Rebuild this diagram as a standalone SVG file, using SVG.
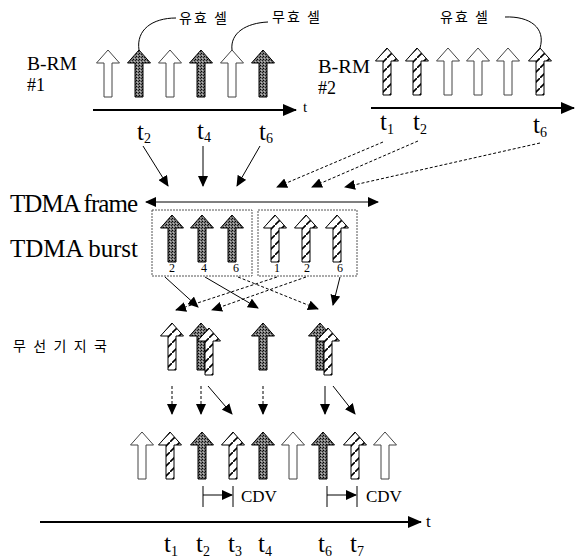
<svg xmlns="http://www.w3.org/2000/svg" width="584" height="559" viewBox="0 0 584 559">
<style>
.w{fill:#fff;stroke:#444;stroke-width:1}
.d{fill:url(#stip);stroke:#000;stroke-width:1}
.h{fill:url(#hatch);stroke:#000;stroke-width:1}
.lbl{font-family:"Liberation Serif",serif;fill:#000}
.ko{font-family:"Noto Sans CJK KR",sans-serif;fill:#000;font-size:14px}
.ln{stroke:#000;stroke-width:1;fill:none}
.dash{stroke-dasharray:3,2}
.ax{stroke:#000;stroke-width:2;fill:none}
.box{fill:none;stroke:#555;stroke-width:1;stroke-dasharray:2,1}
.sub{font-size:14px}
</style>
<defs>
<pattern id="stip" width="3" height="3" patternUnits="userSpaceOnUse">
<rect width="3" height="3" fill="#7a7a7a"/>
<rect x="0" y="0" width="1" height="1" fill="#000"/>
<rect x="2" y="1" width="1" height="1" fill="#222"/>
<rect x="1" y="2" width="1" height="1" fill="#bbb"/>
</pattern>
<pattern id="hatch" width="10" height="10" patternUnits="userSpaceOnUse">
<rect width="10" height="10" fill="#fff"/>
<path d="M-1,11 L11,-1" stroke="#000" stroke-width="1.6"/>
</pattern>
<path id="ar" d="M0,0 L11.5,13 L4,13 L4,47 L-4,47 L-4,13 L-11.5,13 Z"/>
<marker id="ah" markerWidth="11" markerHeight="10" refX="10" refY="5" orient="auto" markerUnits="userSpaceOnUse">
<path d="M0,0 L11,5 L0,10 Z" fill="#000"/>
</marker>
<marker id="ah2" markerWidth="11" markerHeight="10" refX="10" refY="5" orient="auto-start-reverse" markerUnits="userSpaceOnUse">
<path d="M0,0 L11,5 L0,10 Z" fill="#000"/>
</marker>
<marker id="big" markerWidth="14" markerHeight="12" refX="13" refY="6" orient="auto" markerUnits="userSpaceOnUse">
<path d="M0,0 L14,6 L0,12 Z" fill="#000"/>
</marker>
</defs>
<rect width="584" height="559" fill="#fff"/>

<g id="brm1">
<text class="lbl" x="27" y="70" font-size="18" textLength="50" lengthAdjust="spacingAndGlyphs">B-RM</text>
<text class="lbl" x="27" y="91" font-size="18">#1</text>
<use href="#ar" x="108" y="50" class="w"/>
<use href="#ar" x="139" y="50" class="d"/>
<use href="#ar" x="170" y="50" class="w"/>
<use href="#ar" x="201" y="50" class="d"/>
<use href="#ar" x="232" y="50" class="w"/>
<use href="#ar" x="263" y="50" class="d"/>
<line x1="93" y1="110" x2="296" y2="110" class="ax" marker-end="url(#big)"/>
<text class="lbl" x="303" y="112" font-size="15">t</text>
<text class="lbl" x="137" y="140" font-size="25">t<tspan class="sub" dy="3">2</tspan></text>
<text class="lbl" x="197" y="139" font-size="25">t<tspan class="sub" dy="3">4</tspan></text>
<text class="lbl" x="259" y="140" font-size="25">t<tspan class="sub" dy="3">6</tspan></text>
<text class="ko" x="179" y="23" font-size="15" letter-spacing="2">유효 셀</text>
<text class="ko" x="272" y="22" font-size="15" letter-spacing="2">무효 셀</text>
<path class="ln" stroke-width="2" d="M139,50 C136,30 152,18 176,18"/>
<path class="ln" stroke-width="2" d="M232,50 C230,33 246,23 268,22"/>
</g>

<g id="brm2">
<text class="lbl" x="318" y="73" font-size="18" textLength="52" lengthAdjust="spacingAndGlyphs">B-RM</text>
<text class="lbl" x="318" y="94" font-size="18">#2</text>
<use href="#ar" x="387" y="48" class="h"/>
<use href="#ar" x="417" y="48" class="h"/>
<use href="#ar" x="448" y="48" class="w"/>
<use href="#ar" x="478" y="48" class="w"/>
<use href="#ar" x="508" y="48" class="w"/>
<use href="#ar" x="540" y="48" class="h"/>
<line x1="371" y1="108" x2="574" y2="108" class="ax" marker-end="url(#big)"/>
<text class="lbl" x="380" y="130" font-size="25">t<tspan class="sub" dy="4">1</tspan></text>
<text class="lbl" x="413" y="130" font-size="25">t<tspan class="sub" dy="4">2</tspan></text>
<text class="lbl" x="533" y="133" font-size="25">t<tspan class="sub" dy="4">6</tspan></text>
<text class="ko" x="440" y="22" font-size="15" letter-spacing="2">유효 셀</text>
<path class="ln" stroke-width="2" d="M505,17 C530,16 546,28 540,48"/>
</g>

<g id="tdma-frame">
<text class="lbl" x="10" y="212" font-size="25" textLength="128" lengthAdjust="spacing">TDMA frame</text>
<line x1="146" y1="202" x2="378" y2="202" class="ln" stroke-width="1.5" marker-start="url(#ah2)" marker-end="url(#ah2)"/>
</g>

<g id="tdma-burst">
<text class="lbl" x="10" y="257" font-size="25" textLength="128" lengthAdjust="spacing">TDMA burst</text>
</g>

<g id="burst1">
<rect class="box" x="152" y="210" width="100" height="66"/>
<use href="#ar" x="172" y="215" class="d"/>
<use href="#ar" x="202" y="215" class="d"/>
<use href="#ar" x="232" y="215" class="d"/>
<text class="lbl" x="172" y="272" font-size="12" text-anchor="middle">2</text>
<text class="lbl" x="204" y="272" font-size="12" text-anchor="middle">4</text>
<text class="lbl" x="236" y="272" font-size="12" text-anchor="middle">6</text>
</g>

<g id="burst2">
<rect class="box" x="258" y="210" width="99" height="66"/>
<use href="#ar" x="275" y="215" class="h"/>
<use href="#ar" x="306" y="215" class="h"/>
<use href="#ar" x="337" y="215" class="h"/>
<text class="lbl" x="277" y="272" font-size="12" text-anchor="middle">1</text>
<text class="lbl" x="307" y="272" font-size="12" text-anchor="middle">2</text>
<text class="lbl" x="340" y="272" font-size="12" text-anchor="middle">6</text>
</g>

<g id="base-station">
<text class="ko" x="13" y="351" textLength="94" lengthAdjust="spacing">무선기지국</text>
<use href="#ar" x="172" y="323" class="h"/>
<use href="#ar" x="201" y="323" class="d"/>
<use href="#ar" x="209" y="328" class="h"/>
<use href="#ar" x="263" y="323" class="d"/>
<use href="#ar" x="320" y="323" class="d"/>
<use href="#ar" x="328" y="328" class="h"/>
</g>

<g id="output">
<use href="#ar" x="142" y="432" class="w"/>
<use href="#ar" x="170" y="432" class="h"/>
<use href="#ar" x="202" y="432" class="d"/>
<use href="#ar" x="233" y="432" class="h"/>
<use href="#ar" x="263" y="432" class="d"/>
<use href="#ar" x="293" y="432" class="w"/>
<use href="#ar" x="323" y="432" class="d"/>
<use href="#ar" x="355" y="432" class="h"/>
<use href="#ar" x="385" y="432" class="w"/>
<line class="ln" x1="203" y1="486" x2="203" y2="507"/>
<line class="ln" x1="233" y1="486" x2="233" y2="507"/>
<line class="ln" x1="203" y1="495" x2="232" y2="495" stroke-width="1.5" marker-end="url(#ah)"/>
<text class="lbl" x="241" y="502" font-size="17">CDV</text>
<line class="ln" x1="327" y1="486" x2="327" y2="507"/>
<line class="ln" x1="357" y1="486" x2="357" y2="507"/>
<line class="ln" x1="327" y1="495" x2="356" y2="495" stroke-width="1.5" marker-end="url(#ah)"/>
<text class="lbl" x="366" y="502" font-size="17">CDV</text>
<line x1="40" y1="522" x2="421" y2="522" class="ax" marker-end="url(#big)"/>
<text class="lbl" x="426" y="527" font-size="17">t</text>
<text class="lbl" x="164" y="552" font-size="25">t<tspan class="sub" dy="4">1</tspan></text>
<text class="lbl" x="196" y="552" font-size="25">t<tspan class="sub" dy="4">2</tspan></text>
<text class="lbl" x="228" y="552" font-size="25">t<tspan class="sub" dy="4">3</tspan></text>
<text class="lbl" x="258" y="552" font-size="25">t<tspan class="sub" dy="4">4</tspan></text>
<text class="lbl" x="318" y="552" font-size="25">t<tspan class="sub" dy="4">6</tspan></text>
<text class="lbl" x="350" y="552" font-size="25">t<tspan class="sub" dy="4">7</tspan></text>
</g>

<g id="connectors">
<line class="ln" x1="143" y1="146" x2="168" y2="186" marker-end="url(#ah)"/>
<line class="ln" x1="203" y1="146" x2="203" y2="186" marker-end="url(#ah)"/>
<line class="ln" x1="260" y1="146" x2="237" y2="186" marker-end="url(#ah)"/>
<line class="ln dash" x1="383" y1="142" x2="277" y2="187" marker-end="url(#ah)"/>
<line class="ln dash" x1="418" y1="141" x2="312" y2="187" marker-end="url(#ah)"/>
<line class="ln dash" x1="540" y1="143" x2="345" y2="187" marker-end="url(#ah)"/>
<line class="ln" x1="165" y1="277" x2="198" y2="307" marker-end="url(#ah)"/>
<line class="ln" x1="205" y1="277" x2="258" y2="308" marker-end="url(#ah)"/>
<line class="ln dash" x1="238" y1="277" x2="318" y2="309" marker-end="url(#ah)"/>
<line class="ln dash" x1="277" y1="277" x2="176" y2="310" marker-end="url(#ah)"/>
<line class="ln dash" x1="306" y1="277" x2="212" y2="310" marker-end="url(#ah)"/>
<line class="ln" x1="340" y1="277" x2="333" y2="305" marker-end="url(#ah)"/>
<line class="ln dash" x1="172" y1="386" x2="172" y2="414" marker-end="url(#ah)"/>
<line class="ln dash" x1="201" y1="386" x2="201" y2="414" marker-end="url(#ah)"/>
<line class="ln" x1="208" y1="386" x2="232" y2="414" marker-end="url(#ah)"/>
<line class="ln dash" x1="263" y1="386" x2="263" y2="414" marker-end="url(#ah)"/>
<line class="ln" x1="325" y1="386" x2="325" y2="414" marker-end="url(#ah)"/>
<line class="ln" x1="333" y1="386" x2="355" y2="414" marker-end="url(#ah)"/>
</g>
</svg>
